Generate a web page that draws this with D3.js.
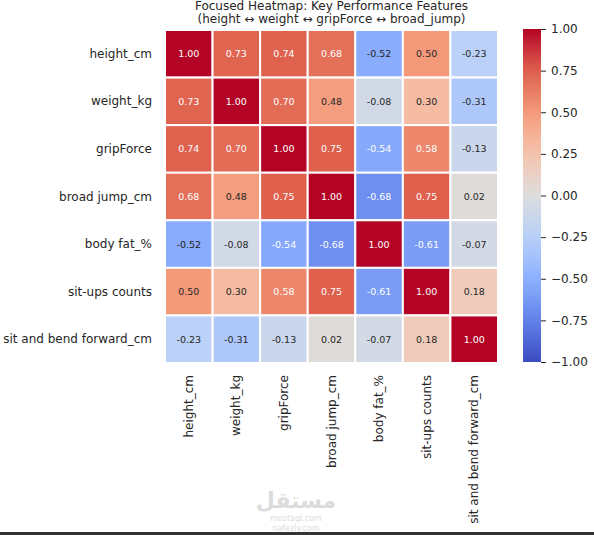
<!DOCTYPE html>
<html>
<head>
<meta charset="utf-8">
<script src="https://cdn.jsdelivr.net/npm/d3@7"></script>
<style>
  body { margin: 0; background: #fff; }
  svg { display: block; font-family: "DejaVu Sans", sans-serif; }
</style>
</head>
<body>
<svg id="chart" width="594" height="535"></svg>
<script>
// features, same order on both axes
const features = ["height_cm", "weight_kg", "gripForce", "broad jump_cm",
                  "body fat_%", "sit-ups counts", "sit and bend forward_cm"];

// correlation rows
const heightRow  = [ 1.00,  0.73,  0.74,  0.68, -0.52,  0.50, -0.23];
const weightRow  = [ 0.73,  1.00,  0.70,  0.48, -0.08,  0.30, -0.31];
const gripRow    = [ 0.74,  0.70,  1.00,  0.75, -0.54,  0.58, -0.13];
const jumpRow    = [ 0.68,  0.48,  0.75,  1.00, -0.68,  0.75,  0.02];
const fatRow     = [-0.52, -0.08, -0.54, -0.68,  1.00, -0.61, -0.07];
const situpsRow  = [ 0.50,  0.30,  0.58,  0.75, -0.61,  1.00,  0.18];
const bendRow    = [-0.23, -0.31, -0.13,  0.02, -0.07,  0.18,  1.00];

const colorbarTicks = [-1, -0.75, -0.5, -0.25, 0, 0.25, 0.5, 0.75, 1];

const rows = [heightRow, weightRow, gripRow, jumpRow, fatRow, situpsRow, bendRow];

const cells = rows.reduce((list, row, i) => {
    return list.concat(row.map((v, j) => ({ row: features[i], col: features[j], value: v })));
}, []);

// coolwarm colormap
const coolwarmStops = ["#3b4cc0", "#6282ea", "#8db0fe", "#b8d0f9", "#dddddd",
                       "#f5c4ad", "#f49a7b", "#de604d", "#b40426"];
const color = d3.scaleLinear()
    .domain(d3.range(coolwarmStops.length).map(i => -1 + 2 * i / (coolwarmStops.length - 1)))
    .range(coolwarmStops)
    .interpolate(d3.interpolateRgb)
    .clamp(true);

// seaborn picks white text on dark cells
function luminance(c) {
    const rgb = d3.rgb(c);
    const lin = v => {
        v = v / 255;
        return v <= 0.03928 ? v / 12.92 : Math.pow((v + 0.055) / 1.055, 2.4);
    };
    return 0.2126 * lin(rgb.r) + 0.7152 * lin(rgb.g) + 0.0722 * lin(rgb.b);
}

const svg = d3.select("#chart");
const textColor = "#262626";

const gridLeft = 165, gridRight = 498, gridTop = 30, gridBottom = 363;

const x = d3.scaleBand().domain(features).range([gridLeft, gridRight]);
const y = d3.scaleBand().domain(features).range([gridTop, gridBottom]);

// cells
svg.append("g")
    .selectAll("rect")
    .data(cells)
    .enter().append("rect")
        .attr("x", d => x(d.col))
        .attr("y", d => y(d.row))
        .attr("width", x.bandwidth())
        .attr("height", y.bandwidth())
        .attr("fill", d => color(d.value))
        .attr("stroke", "#fff")
        .attr("stroke-width", 2);

// annotations (plain hyphen, like the original)
svg.append("g")
    .selectAll("text")
    .data(cells)
    .enter().append("text")
        .attr("x", d => x(d.col) + x.bandwidth() / 2)
        .attr("y", d => y(d.row) + y.bandwidth() / 2)
        .attr("text-anchor", "middle")
        .attr("dominant-baseline", "central")
        .attr("font-size", 9.5)
        .attr("fill", d => luminance(color(d.value)) < 0.408 ? "#fff" : textColor)
        .text(d => d3.format(".2f")(d.value).replace("\u2212", "-"));

// y labels
svg.append("g")
    .selectAll("text")
    .data(features)
    .enter().append("text")
        .attr("x", 152)
        .attr("y", d => y(d) + y.bandwidth() / 2)
        .attr("text-anchor", "end")
        .attr("dominant-baseline", "central")
        .attr("font-size", 12)
        .attr("fill", textColor)
        .text(d => d);

// x labels, rotated
svg.append("g")
    .selectAll("text")
    .data(features)
    .enter().append("text")
        .attr("transform", d => "translate(" + (x(d) + x.bandwidth() / 2) + "," + 375 + ") rotate(-90)")
        .attr("text-anchor", "end")
        .attr("dominant-baseline", "central")
        .attr("font-size", 12)
        .attr("fill", textColor)
        .text(d => d);

// title
const title = svg.append("text")
    .attr("text-anchor", "middle")
    .attr("font-size", 12)
    .attr("fill", textColor);
title.append("tspan").attr("x", (gridLeft + gridRight) / 2).attr("y", 10)
    .text("Focused Heatmap: Key Performance Features");
title.append("tspan").attr("x", (gridLeft + gridRight) / 2).attr("y", 22.5)
    .text("(height \u2194 weight \u2194 gripForce \u2194 broad_jump)");

// colorbar
const cbX = 523, cbW = 18, cbTop = 29, cbBottom = 362;
const grad = svg.append("defs").append("linearGradient")
    .attr("id", "cbar")
    .attr("x1", 0).attr("y1", 1).attr("x2", 0).attr("y2", 0);
grad.selectAll("stop")
    .data(d3.range(0, 1.0001, 0.05))
    .enter().append("stop")
        .attr("offset", d => d)
        .attr("stop-color", d => color(-1 + 2 * d));

svg.append("rect")
    .attr("x", cbX).attr("y", cbTop)
    .attr("width", cbW).attr("height", cbBottom - cbTop)
    .attr("fill", "url(#cbar)");

const cbScale = d3.scaleLinear().domain([-1, 1]).range([cbBottom, cbTop]);
const cbAxis = svg.append("g")
    .attr("transform", "translate(" + (cbX + cbW) + ",0)")
    .call(d3.axisRight(cbScale)
        .tickValues(colorbarTicks)
        .tickSize(5)
        .tickPadding(5)
        .tickFormat(d => d3.format(".2f")(d).replace("-", "\u2212")));
cbAxis.select(".domain").remove();
cbAxis.selectAll("line").attr("stroke", textColor).attr("stroke-width", 1);
cbAxis.selectAll("text")
    .attr("font-family", "DejaVu Sans, sans-serif")
    .attr("font-size", 12)
    .attr("fill", textColor);

// faint watermark
const mark = svg.append("g").attr("fill", "#dcdcdc").attr("text-anchor", "middle");
mark.append("text").attr("x", 296).attr("y", 508).attr("font-size", 22).attr("font-weight", "bold").text("مستقل");
mark.append("text").attr("x", 296).attr("y", 521).attr("font-size", 8).text("mostaql.com");
mark.append("text").attr("x", 296).attr("y", 531).attr("font-size", 8).text("nafezly.com");

// dark strip along the bottom edge
svg.append("rect")
    .attr("x", 0).attr("y", 532)
    .attr("width", 594).attr("height", 3)
    .attr("fill", "#333");
</script>
</body>
</html>
